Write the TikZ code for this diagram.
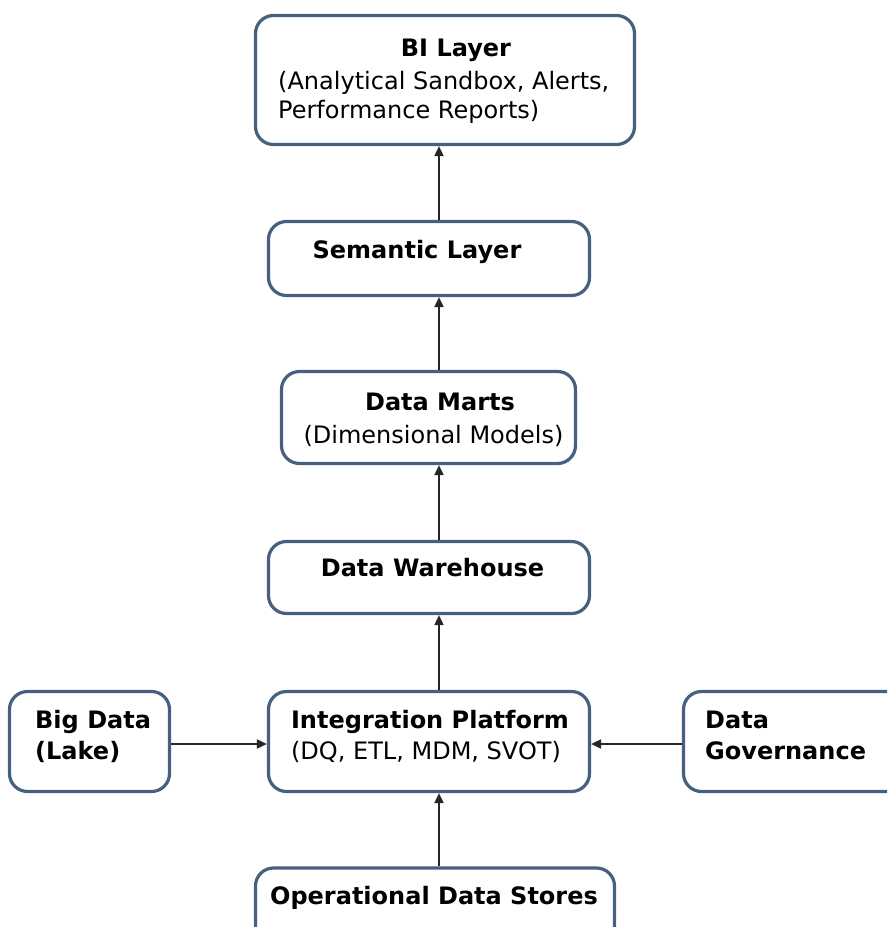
\documentclass[tikz,border=0pt]{standalone}
\usepackage{fontspec}
\setmainfont{DejaVu Sans}
\usetikzlibrary{arrows.meta}
\definecolor{boxc}{RGB}{72,96,128}
\begin{document}
\begin{tikzpicture}[x=1pt,y=-1pt,
  box/.style={draw=boxc, line width=3.2pt, rounded corners=18pt, fill=white, inner sep=0pt},
  lbl/.style={anchor=base, inner sep=0pt, text=black, font=\fontsize{24}{28}\selectfont},
  lblb/.style={lbl, font=\fontsize{24}{28}\selectfont\bfseries},
  arr/.style={draw=black!85, line width=1.8pt, -{Triangle[length=10pt,width=9pt]}}]
\useasboundingbox (0,0) rectangle (887,927);
\fill[white] (0,0) rectangle (887,927);
\clip (0,0) rectangle (887,927);

% boxes
\node[box, minimum width=379pt, minimum height=129pt] (bi)  at (445,80) {};
\node[box, minimum width=321pt, minimum height=74pt]  (sem) at (429,258.5) {};
\node[box, minimum width=294pt, minimum height=92pt]  (dm)  at (428.5,417.5) {};
\node[box, minimum width=321pt, minimum height=72pt]  (dw)  at (429,577.5) {};
\node[box, minimum width=321pt, minimum height=100pt] (ip)  at (429,741.5) {};
\node[box, minimum width=160pt, minimum height=100pt] (bd)  at (89.5,741.5) {};
\node[box, minimum width=235pt, minimum height=100pt] (dg)  at (801,741.5) {};
\node[box, minimum width=359pt, minimum height=90pt]  (ods) at (435,913) {};

% texts
\node[lblb] (bit) at (456,56) {BI Layer};
\node[lbl, anchor=base west] (bi1) at (278,89) {(Analytical Sandbox, Alerts,};
\node[lbl, anchor=base west] (bi2) at (278,118) {Performance Reports)};
\node[lblb] (semt) at (417,258) {Semantic Layer};
\node[lblb] (dmt) at (440,410) {Data Marts};
\node[lbl] (dm1) at (433.5,443) {(Dimensional Models)};
\node[lblb] (dwt) at (432.5,576) {Data Warehouse};
\node[lblb] (ipt) at (430,728) {Integration Platform};
\node[lbl] (ip1) at (426,759) {(DQ, ETL, MDM, SVOT)};
\node[lblb, anchor=base west] (bdt) at (35,728) {Big Data};
\node[lblb, anchor=base west] (bd1) at (35,759) {(Lake)};
\node[lblb, anchor=base west] (dgt) at (705,728) {Data};
\node[lblb, anchor=base west] (dg1) at (705,759) {Governance};
\node[lblb] (odst) at (434,904) {Operational Data Stores};

% connectors
\coordinate (ax) at (439,0);
\coordinate (ay) at (0,744);
\draw[arr] (sem.north -| ax) -- (bi.south -| ax);
\draw[arr] (dm.north -| ax) -- (sem.south -| ax);
\draw[arr] (dw.north -| ax) -- (dm.south -| ax);
\draw[arr] (ip.north -| ax) -- (dw.south -| ax);
\draw[arr] (ods.north -| ax) -- (ip.south -| ax);
\draw[arr] (bd.east |- ay) -- (ip.west |- ay);
\draw[arr] (dg.west |- ay) -- (ip.east |- ay);
\end{tikzpicture}
\end{document}
